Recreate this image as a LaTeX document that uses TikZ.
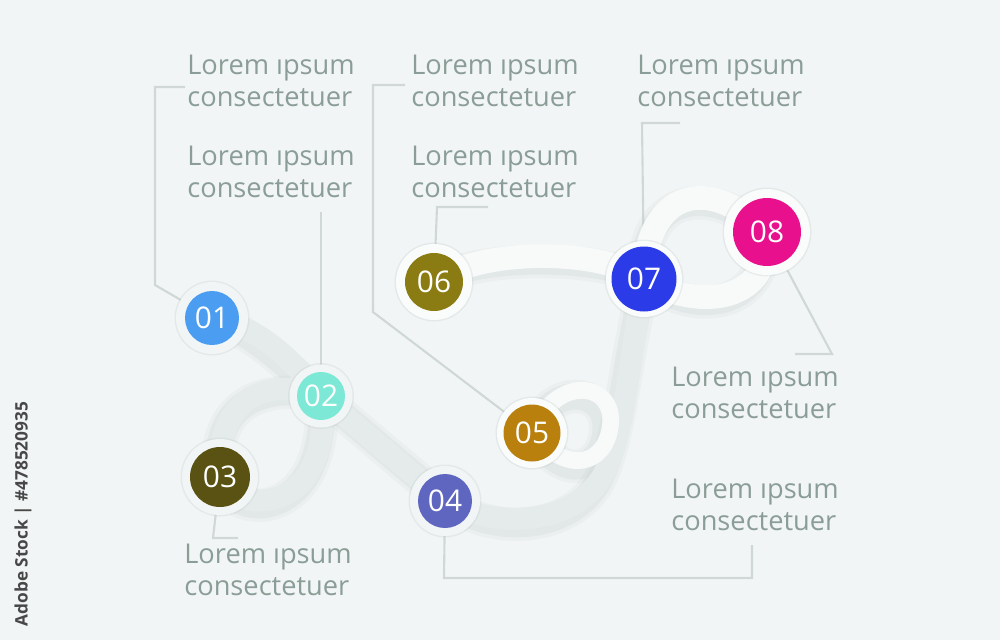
\documentclass[tikz,border=0pt]{standalone}
\usepackage{fontspec}
\setmainfont{Open Sans}
\definecolor{bg}{HTML}{F2F5F5}
\definecolor{bandc}{HTML}{E5EBEB}
\definecolor{bandu}{HTML}{F8FAFA}
\definecolor{ringc}{HTML}{F1F5F5}
\definecolor{ringu}{HTML}{FAFCFC}
\definecolor{shc}{HTML}{BFCACA}
\definecolor{leadc}{HTML}{CFD8D6}
\definecolor{txtc}{HTML}{8A9D97}
\definecolor{c1}{HTML}{4A9DF0}
\definecolor{c2}{HTML}{7DE8D6}
\definecolor{c3}{HTML}{5A5212}
\definecolor{c4}{HTML}{5E66C0}
\definecolor{c5}{HTML}{B9800E}
\definecolor{c6}{HTML}{8A7C12}
\definecolor{c7}{HTML}{2B3BE8}
\definecolor{c8}{HTML}{E8108C}
\begin{document}
\begin{tikzpicture}[x=0.02cm,y=-0.02cm,
  bandsh/.style={line width=19pt, draw=shc, opacity=0.13, line cap=round},
  bandsh2/.style={line width=15pt, draw=shc, opacity=0.2, line cap=round},
  band/.style={line width=12.5pt, draw=bandc, line cap=round},
  bandup/.style={line width=13.5pt, draw=bandu, line cap=round},
  ringsh/.style={circle, fill=shc, opacity=0.28, inner sep=0pt},
  ring/.style={circle, fill=ringc, inner sep=0pt},
  ringup/.style={circle, fill=ringu, inner sep=0pt},
  dot/.style={circle, inner sep=0pt, text=white, font=\fontsize{17}{19}\selectfont},
  lead/.style={draw=leadc, line width=1.2pt},
  lbl/.style={anchor=north west, inner sep=0pt, align=left, text=txtc,
    font=\fontsize{15.5}{18.1}\selectfont}]
\fill[bg] (0,0) rectangle (1000,640);
% centres
\coordinate (p1) at (212,318);
\coordinate (p2) at (321,396);
\coordinate (p3) at (220,477);
\coordinate (p4) at (445,501);
\coordinate (p5) at (532,433);
\coordinate (p6) at (434,282);
\coordinate (p7) at (644,279);
\coordinate (p8) at (767,232);
% leader lines
\draw[lead] (185,87) -- (155,87) -- (155,285) -- (p1);
\draw[lead] (321,212) -- (p2);
\draw[lead] (p3) -- (213,538) -- (238,538);
\draw[lead] (p4) -- (444,578) -- (752,578) -- (752,545);
\draw[lead] (405,85) -- (373,85) -- (373,312) -- (p5);
\draw[lead] (p6) -- (437,207) -- (488,207);
\draw[lead] (p7) -- (642,123) -- (680,123);
\draw[lead] (p8) -- (832,354) -- (795,354);
% band shadows
\begin{scope}[shift={(-5,7)}]
\foreach \s in {bandsh,bandsh2}{
\draw[\s] (p1) .. controls (262,328) and (292,360) .. (p2);
\draw[\s] (p2) .. controls (265,375) and (215,400) .. (p3);
\draw[\s] (p3) .. controls (240,520) and (335,510) .. (p2);
\draw[\s] (p2) -- (p4);
\draw[\s] (p7) .. controls (630,360) and (625,420) .. (610,460) .. controls (588,525) and (500,532) .. (p4);
\draw[\s] (p5) .. controls (556,372) and (618,382) .. (610,428) .. controls (605,462) and (570,478) .. (p5);
\draw[\s] (p6) .. controls (480,248) and (600,248) .. (p7);
\draw[\s] (p7) .. controls (645,200) and (700,168) .. (p8);
\draw[\s] (p7) .. controls (700,312) and (772,302) .. (p8);
}
\end{scope}
% bands
\draw[band] (p1) .. controls (262,328) and (292,360) .. (p2);
\draw[band] (p2) .. controls (265,375) and (215,400) .. (p3);
\draw[band] (p3) .. controls (240,520) and (335,510) .. (p2);
\draw[band] (p2) -- (p4);
\draw[band] (p7) .. controls (630,360) and (625,420) .. (610,460) .. controls (588,525) and (500,532) .. (p4);
\draw[bandup, line width=9.5pt] (p5) .. controls (556,372) and (618,382) .. (610,428) .. controls (605,462) and (570,478) .. (p5);
\draw[bandup] (p6) .. controls (480,248) and (600,248) .. (p7);
\draw[bandup] (p7) .. controls (645,200) and (700,168) .. (p8);
\draw[bandup] (p7) .. controls (700,312) and (772,302) .. (p8);
% ring shadows
\begin{scope}[shift={(-5,7)}]
\node[ringsh, minimum size=1.50cm] (s1) at (p1) {};
\node[ringsh, minimum size=1.32cm] (s2) at (p2) {};
\node[ringsh, minimum size=1.58cm] (s3) at (p3) {};
\node[ringsh, minimum size=1.46cm] (s4) at (p4) {};
\node[ringsh, minimum size=1.46cm] (s5) at (p5) {};
\node[ringsh, minimum size=1.58cm] (s6) at (p6) {};
\node[ringsh, minimum size=1.58cm] (s7) at (p7) {};
\node[ringsh, minimum size=1.78cm] (s8) at (p8) {};
\end{scope}
% rings
\node[ring, minimum size=1.44cm] (r1) at (p1) {};
\node[ring, minimum size=1.26cm] (r2) at (p2) {};
\node[ring, minimum size=1.52cm] (r3) at (p3) {};
\node[ring, minimum size=1.40cm] (r4) at (p4) {};
\node[ringup, minimum size=1.40cm] (r5) at (p5) {};
\node[ringup, minimum size=1.52cm] (r6) at (p6) {};
\node[ringup, minimum size=1.52cm] (r7) at (p7) {};
\node[ringup, minimum size=1.72cm] (r8) at (p8) {};
% coloured dots
\node[dot, fill=c1, minimum size=1.08cm] (n1) at (p1) {01};
\node[dot, fill=c2, minimum size=0.96cm] (n2) at (p2) {02};
\node[dot, fill=c3, minimum size=1.20cm] (n3) at (p3) {03};
\node[dot, fill=c4, minimum size=1.08cm] (n4) at (p4) {04};
\node[dot, fill=c5, minimum size=1.14cm] (n5) at (p5) {05};
\node[dot, fill=c6, minimum size=1.16cm] (n6) at (p6) {06};
\node[dot, fill=c7, minimum size=1.30cm] (n7) at (p7) {07};
\node[dot, fill=c8, minimum size=1.36cm] (n8) at (p8) {08};
% labels
\node[lbl] (t1) at (187,55) {Lorem ıpsum\\consectetuer};
\node[lbl] (t2) at (187,146) {Lorem ıpsum\\consectetuer};
\node[lbl] (t3) at (184,544) {Lorem ıpsum\\consectetuer};
\node[lbl] (t4) at (671,479) {Lorem ıpsum\\consectetuer};
\node[lbl] (t5) at (411,55) {Lorem ıpsum\\consectetuer};
\node[lbl] (t6) at (411,146) {Lorem ıpsum\\consectetuer};
\node[lbl] (t7) at (637,55) {Lorem ıpsum\\consectetuer};
\node[lbl] (t8) at (671,367) {Lorem ıpsum\\consectetuer};
% stock id
\node[rotate=90, text=black!72, font=\bfseries\fontsize{9.8}{11}\selectfont] (wm) at (23,514) {Adobe Stock | \#478520935};
\end{tikzpicture}
\end{document}
